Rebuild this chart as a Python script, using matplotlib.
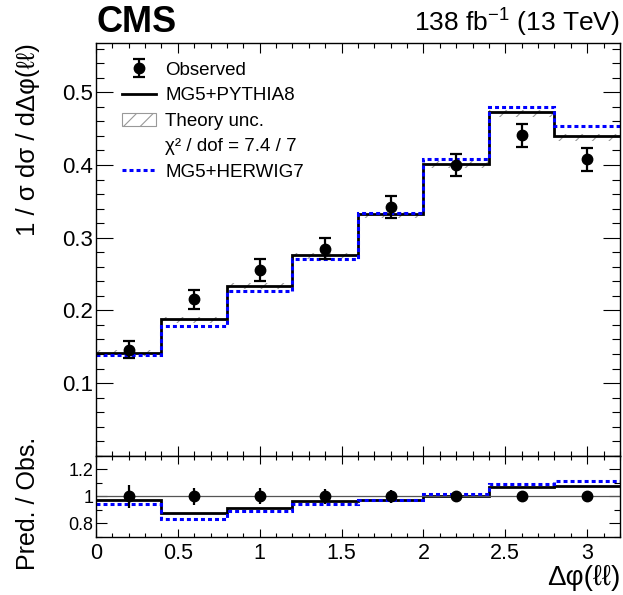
import numpy as np
import matplotlib
matplotlib.use("Agg")
import matplotlib.pyplot as plt
from matplotlib.ticker import MultipleLocator, FormatStrFormatter, FuncFormatter
from matplotlib.patches import Patch
from matplotlib.lines import Line2D

plt.rcParams['font.family'] = ['Liberation Sans', 'DejaVu Sans']
plt.rcParams['mathtext.default'] = 'regular'
plt.rcParams['hatch.linewidth'] = 0.8

# binning in delta phi(ll)
bin_edges = [0.0, 0.4, 0.8, 1.2, 1.6, 2.0, 2.4, 2.8, 3.2]
bin_centers = [0.2, 0.6, 1.0, 1.4, 1.8, 2.2, 2.6, 3.0]

# normalised cross section values
observed = [0.146, 0.215, 0.255, 0.285, 0.342, 0.400, 0.441, 0.408]
observed_err = [0.012, 0.013, 0.015, 0.015, 0.0155, 0.0155, 0.016, 0.016]
pythia8 = [0.142, 0.188, 0.234, 0.276, 0.333, 0.402, 0.473, 0.440]
theory_lo = [0.137, 0.183, 0.229, 0.271, 0.327, 0.396, 0.466, 0.433]
theory_hi = [0.145, 0.191, 0.237, 0.279, 0.336, 0.405, 0.475, 0.442]
herwig7 = [0.138, 0.179, 0.227, 0.270, 0.334, 0.408, 0.480, 0.453]

obs = np.array(observed)
obs_err = np.array(observed_err)

fig = plt.figure(figsize=(6.23, 5.95), dpi=100)
ax = fig.add_axes([0.154, 0.234, 0.841, 0.694])
rax = fig.add_axes([0.154, 0.0975, 0.841, 0.1365])

# main panel
ax.stairs(theory_hi, bin_edges, baseline=theory_lo, fill=True, facecolor='none',
          edgecolor='#999999', hatch='//', linewidth=0)
ax.stairs(pythia8, bin_edges, baseline=None, color='black', linewidth=2.0)
ax.stairs(herwig7, bin_edges, baseline=None, color='#0000ff', linewidth=2.2,
          linestyle=(0, (1.3, 1.0)))
eb = ax.errorbar(bin_centers, observed, yerr=observed_err, fmt='o', color='black',
                 markersize=7.5, elinewidth=1.6, capsize=4.5, capthick=1.6, zorder=5)

ax.set_xlim(0, 3.2)
ax.set_ylim(0, 0.568)
ax.xaxis.set_major_locator(MultipleLocator(0.5))
ax.xaxis.set_minor_locator(MultipleLocator(0.1))
ax.yaxis.set_major_locator(MultipleLocator(0.1))
ax.yaxis.set_minor_locator(MultipleLocator(0.02))
ax.yaxis.set_major_formatter(FuncFormatter(lambda v, p: '' if abs(v) < 1e-9 else '%g' % v))
ax.tick_params(axis='x', which='major', direction='in', top=True, bottom=True,
               length=7, width=0.8, labelbottom=False)
ax.tick_params(axis='x', which='minor', direction='in', top=True, bottom=True,
               length=3.5, width=0.8)
ax.tick_params(axis='y', which='major', direction='in', left=True, right=True,
               length=12, width=0.8, labelsize=16, pad=2)
ax.tick_params(axis='y', which='minor', direction='in', left=True, right=True,
               length=6, width=0.8)

handles = [eb,
           Line2D([], [], color='black', linewidth=2.0),
           Patch(facecolor='none', edgecolor='#999999', hatch='//', linewidth=0.8),
           Patch(facecolor='none', edgecolor='none'),
           Line2D([], [], color='#0000ff', linewidth=2.2, linestyle=(0, (1.3, 1.0)))]
labels = ['Observed', 'MG5+PYTHIA8', 'Theory unc.', 'χ² / dof = 7.4 / 7', 'MG5+HERWIG7']
ax.legend(handles, labels, loc='upper left', bbox_to_anchor=(0.05, 0.955),
          frameon=False, fontsize=13.5, handlelength=1.8, handletextpad=0.5,
          labelspacing=0.45, borderpad=0, borderaxespad=0)

# ratio panel
rax.axhline(1.0, color='#555555', linewidth=0.9)
rax.stairs(np.array(pythia8) / obs, bin_edges, baseline=None, color='black', linewidth=2.0)
rax.stairs(np.array(herwig7) / obs, bin_edges, baseline=None, color='#0000ff',
           linewidth=2.2, linestyle=(0, (1.3, 1.0)))
rax.errorbar(bin_centers, obs / obs, yerr=obs_err / obs, fmt='o', color='black',
             markersize=7.5, elinewidth=1.6, capsize=0, zorder=5)

rax.set_xlim(0, 3.2)
rax.set_ylim(0.7, 1.3)
rax.xaxis.set_major_locator(MultipleLocator(0.5))
rax.xaxis.set_minor_locator(MultipleLocator(0.1))
rax.yaxis.set_major_locator(MultipleLocator(0.2))
rax.yaxis.set_minor_locator(MultipleLocator(0.1))
rax.xaxis.set_major_formatter(FormatStrFormatter('%g'))
rax.yaxis.set_major_formatter(FormatStrFormatter('%g'))
rax.tick_params(axis='x', which='major', direction='in', top=True, bottom=True,
                length=6, width=0.8, labelsize=15.5, pad=4)
rax.tick_params(axis='x', which='minor', direction='in', top=True, bottom=True,
                length=3, width=0.8)
rax.tick_params(axis='y', which='major', direction='in', left=True, right=True,
                length=8, width=0.8, labelsize=13, pad=2)
rax.tick_params(axis='y', which='minor', direction='in', left=True, right=True,
                length=4, width=0.8)

for a in (ax, rax):
    for s in a.spines.values():
        s.set_linewidth(1.0)

fig.text(96 / 623, 1 - 32 / 595, 'CMS', fontsize=26, fontweight='bold', va='baseline')
fig.text(620 / 623, 1 - 32 / 595, r'138 fb$^{-1}$ (13 TeV)', fontsize=19,
         ha='right', va='baseline')
fig.text(28 / 623, 1 - 43 / 595, '1 / σ dσ / dΔφ(ℓℓ)', fontsize=18.5, rotation=90,
         ha='center', va='top')
fig.text(28 / 623, 1 - 503 / 595, 'Pred. / Obs.', fontsize=18, rotation=90,
         ha='center', va='center')
fig.text(620 / 623, 1 - 591 / 595, 'Δφ(ℓℓ)', fontsize=20, ha='right', va='bottom')

fig.savefig('out.png', dpi=100)
